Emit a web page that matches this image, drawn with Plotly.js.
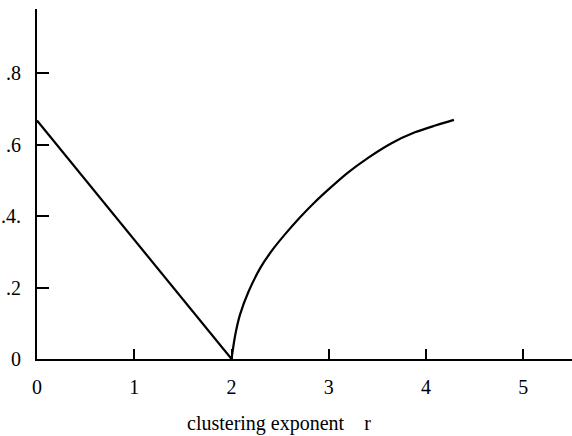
<!DOCTYPE html>
<html>
<head>
<meta charset="utf-8">
<script src="https://cdn.plot.ly/plotly-3.0.1.min.js"></script>
<style>html,body{margin:0;padding:0;background:#fff;}#chart{width:572px;height:436px;}</style>
</head>
<body>
<div id="chart"></div>
<script>
// Left branch: straight line from r=0 to r=2
const leftR = [0, 2];
const leftY = [0.667, 0];
// Right branch: curve rising from r=2
const rightR = [2.0, 2.035, 2.087, 2.174, 2.296, 2.42, 2.56, 2.70, 2.85, 3.00, 3.19, 3.40, 3.64, 3.885, 4.094, 4.286];
const rightY = [0.0, 0.063, 0.124, 0.188, 0.255, 0.305, 0.352, 0.395, 0.437, 0.475, 0.52, 0.562, 0.603, 0.634, 0.653, 0.669];
// Tick labels
const xTickVals = [0, 1, 2, 3, 4, 5];
const xTickText = ["0", "1", "2", "3", "4", "5"];
const yTickVals = [0, 0.2, 0.4, 0.6, 0.8];
const yTickText = ["0", ".2", ".4.", ".6", ".8"];
const xTitle = "clustering exponent\u00a0\u00a0\u00a0\u00a0r";

const lineStyle = {color: "#000", width: 2.2};
const traces = [
  {x: leftR, y: leftY, mode: "lines", line: lineStyle, hoverinfo: "skip", showlegend: false},
  {x: rightR, y: rightY, mode: "lines", line: Object.assign({shape: "spline", smoothing: 0.7}, lineStyle), hoverinfo: "skip", showlegend: false}
];
const font = {family: "'Liberation Serif', 'Times New Roman', serif", size: 20, color: "#000"};
const layout = {
  width: 572, height: 436,
  margin: {l: 37, r: 0, t: 9, b: 77},
  paper_bgcolor: "#fff", plot_bgcolor: "#fff",
  font: font,
  showlegend: false,
  xaxis: {
    range: [0, 5.5], showgrid: false, zeroline: false,
    showline: true, linecolor: "#000", linewidth: 2,
    ticks: "inside", ticklen: 10, tickwidth: 2, tickcolor: "#000",
    tickmode: "array", tickvals: xTickVals, ticktext: xTickText,
    ticklabelstandoff: 9,
    tickfont: font
  },
  yaxis: {
    range: [0, 0.979], showgrid: false, zeroline: false,
    showline: true, linecolor: "#000", linewidth: 2,
    ticks: "inside", ticklen: 12, tickwidth: 2, tickcolor: "#000",
    tickmode: "array", tickvals: yTickVals, ticktext: yTickText,
    ticklabelstandoff: 10,
    tickfont: font
  },
  annotations: [{
    text: xTitle, xref: "paper", yref: "paper",
    x: (279 - 37) / 535, y: -(423 - 359) / 350,
    xanchor: "center", yanchor: "middle", showarrow: false, font: font
  }]
};
Plotly.newPlot("chart", traces, layout, {displayModeBar: false, staticPlot: true});
</script>
</body>
</html>
